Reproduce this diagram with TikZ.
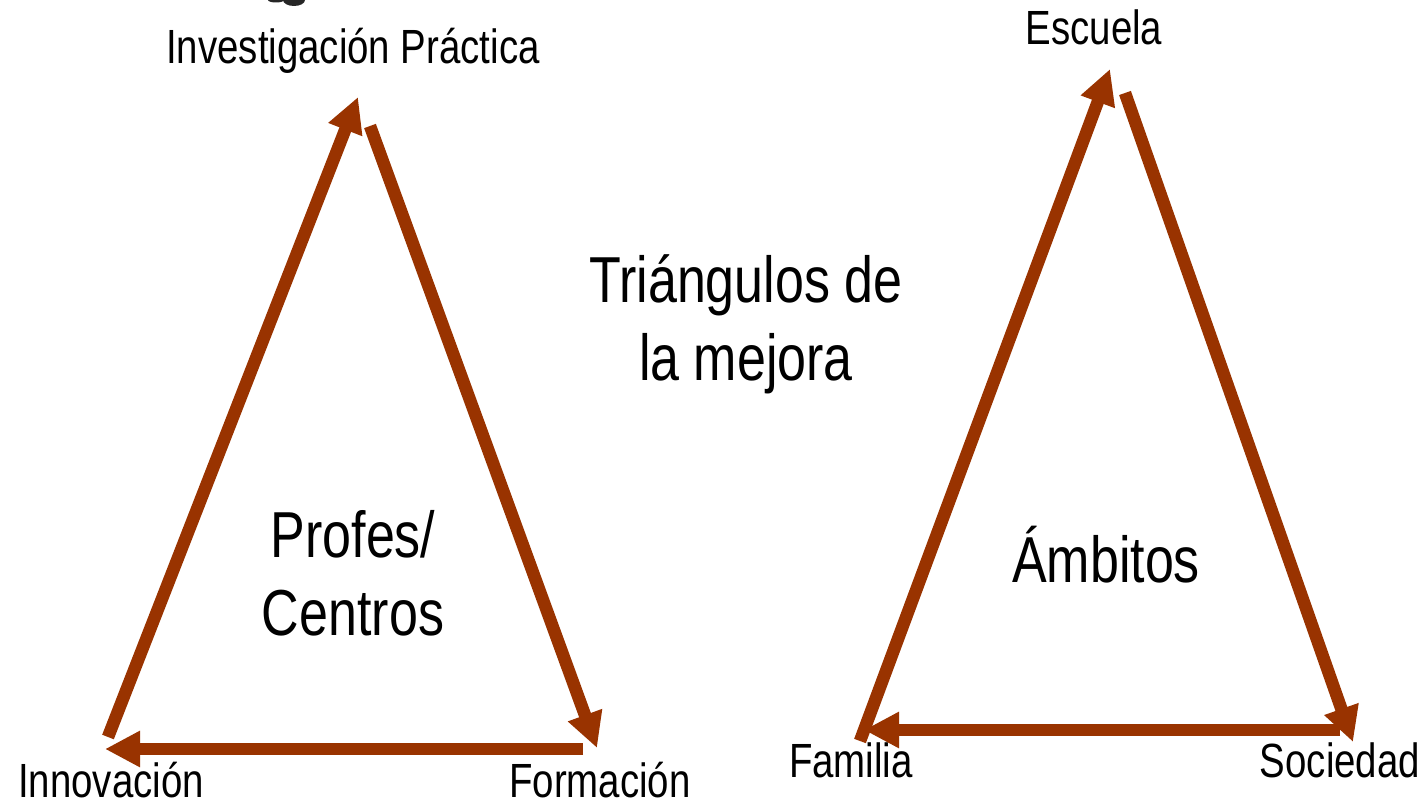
\documentclass[tikz,border=0pt]{standalone}
\usepackage{fontspec}
\setmainfont{Liberation Sans}[FakeStretch=0.8]
\usetikzlibrary{arrows.meta}
\definecolor{arrowbrown}{HTML}{993300}
\tikzset{
  conn/.style={draw=arrowbrown, line width=12.5pt, -{Triangle[length=35pt,width=34pt]}},
  lbl/.style={font=\fontsize{48}{52}\selectfont, anchor=base, inner sep=0pt},
  big/.style={font=\fontsize{65}{78}\selectfont, align=center, inner sep=0pt}
}
\begin{document}
\begin{tikzpicture}[x=1pt,y=-1pt]
\useasboundingbox (0,0) rectangle (1428,805);
% small dark smudge at top edge
\fill[black!85] (294,0) ellipse (11 and 6);
\fill[black!85] (276,0) ellipse (8 and 2.5);
% labels
\node[lbl] (inv) at (353,64) {Investigación Práctica};
\node[lbl] (inn) at (111,797) {Innovación};
\node[lbl] (for) at (600,797) {Formación};
\node[lbl] (esc) at (1094,45) {Escuela};
\node[lbl] (fam) at (851,777) {Familia};
\node[lbl] (soc) at (1340,777) {Sociedad};
\node[big] (pc) at (353,573) {Profes/\\Centros};
\node[big] (tri) at (746,324) {Triángulos de\\la mejora};
\node[big] (amb) at (1106,555) {Ámbitos};
% left triangle
\coordinate (a1) at (108,737);
\coordinate (a2) at (358,97);
\coordinate (b1) at (370,126);
\coordinate (b2) at (597,748);
\coordinate (c1) at (583,749);
\coordinate (c2) at (105,749);
\draw[conn] (a1) -- (a2);
\draw[conn] (b1) -- (b2);
\draw[conn] (c1) -- (c2);
% right triangle
\coordinate (d1) at (860,741);
\coordinate (d2) at (1110,69);
\coordinate (e1) at (1125,93);
\coordinate (e2) at (1353,742);
\coordinate (f1) at (1340,730);
\coordinate (f2) at (864,730);
\draw[conn] (d1) -- (d2);
\draw[conn] (e1) -- (e2);
\draw[conn] (f1) -- (f2);
\end{tikzpicture}
\end{document}
